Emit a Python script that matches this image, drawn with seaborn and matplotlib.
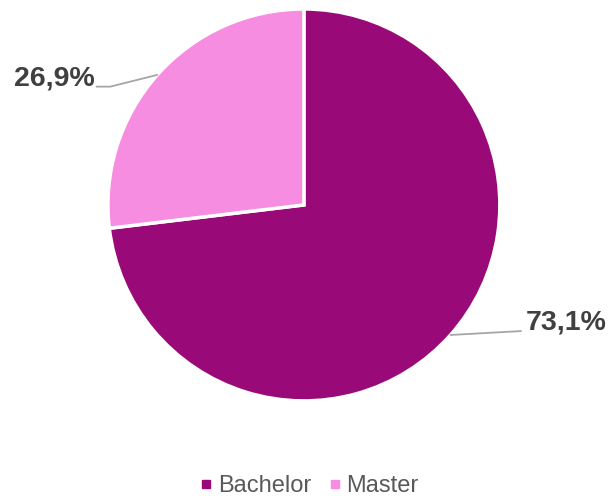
import numpy as np
import seaborn as sns
import matplotlib
matplotlib.use("Agg")
import matplotlib.pyplot as plt
from matplotlib.lines import Line2D

categories = ["Bachelor", "Master"]
shares = [73.1, 26.9]
share_labels = ["73,1%", "26,9%"]
colors = ["#990a78", "#f78de1"]

sns.set_theme(style="white")
plt.rcParams["font.family"] = ["Liberation Sans", "DejaVu Sans"]

fig = plt.figure(figsize=(6.09, 4.98), dpi=100)
ax = fig.add_axes([0.177, 0.195, 0.644, 0.787])

wedges, _ = ax.pie(shares, colors=colors, startangle=90, counterclock=False,
                   wedgeprops=dict(edgecolor="white", linewidth=2.5))
ax.set_xlim(-1, 1)
ax.set_ylim(-1, 1)
ax.set_aspect("equal")

# leader lines + labels, anchored at the middle of each wedge
for w, lab in zip(wedges, share_labels):
    mid = np.deg2rad((w.theta1 + w.theta2) / 2)
    x0, y0 = np.cos(mid), np.sin(mid)
    if x0 > 0:
        ax.plot([x0, x0 + 0.36], [y0, y0 + 0.02], color="#a6a6a6", lw=1.3, clip_on=False)
        ax.text(x0 + 0.385, y0 + 0.065, lab, ha="left", va="center", fontsize=20.5,
                fontweight="bold", color="#404040", clip_on=False)
    else:
        ax.plot([x0, x0 - 0.24, x0 - 0.31], [y0, y0 - 0.06, y0 - 0.06],
                color="#a6a6a6", lw=1.3, clip_on=False)
        ax.text(x0 - 0.32, y0 - 0.02, lab, ha="right", va="center", fontsize=20.5,
                fontweight="bold", color="#404040", clip_on=False)

handles = [Line2D([], [], marker="s", linestyle="", markersize=6,
                  markerfacecolor=c, markeredgecolor=c) for c in colors]
fig.legend(handles, categories, loc="center", bbox_to_anchor=(0.503, 0.024),
           ncol=2, frameon=False, fontsize=17, labelcolor="#595959",
           handletextpad=0.0, columnspacing=0.5, handlelength=1.0)

fig.savefig("out.png", dpi=100)
